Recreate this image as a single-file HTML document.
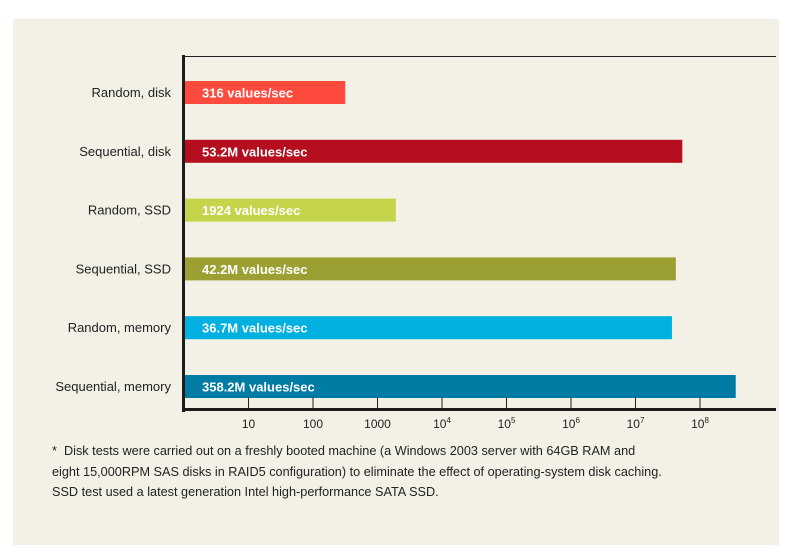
<!DOCTYPE html>
<html><head><meta charset="utf-8"><style>
body{margin:0;background:#fff;width:795px;height:557px;overflow:hidden;font-family:"Liberation Sans",sans-serif}
#panel{position:absolute;left:13px;top:19px;width:766px;height:526px;background:#f3f1e5}
.note{position:absolute;left:52px;font-size:12.7px;color:#222}
</style></head><body>
<div id="panel"></div>
<svg id="chart" width="795" height="557" style="position:absolute;left:0;top:0"></svg>
<div class="note" style="top:444px">*&nbsp; Disk tests were carried out on a freshly booted machine (a Windows 2003 server with 64GB RAM and</div>
<div class="note" style="top:465px">eight 15,000RPM SAS disks in RAID5 configuration) to eliminate the effect of operating-system disk caching.</div>
<div class="note" style="top:485px">SSD test used a latest generation Intel high-performance SATA SSD.</div>
<script>
const categories=["Random, disk","Sequential, disk","Random, SSD","Sequential, SSD","Random, memory","Sequential, memory"];
const values=[316,53.2e6,1924,42.2e6,36.7e6,358.2e6];
const valueLabels=["316 values/sec","53.2M values/sec","1924 values/sec","42.2M values/sec","36.7M values/sec","358.2M values/sec"];
const colors=["#ff4b3e","#b50e1e","#c5d44a","#9ca033","#00b0e0","#007ba3"];
const tickExps=[1,2,3,4,5,6,7,8];
const tickLabels=["10","100","1000","10<tspan dy='-5' font-size='8'>4</tspan>","10<tspan dy='-5' font-size='8'>5</tspan>","10<tspan dy='-5' font-size='8'>6</tspan>","10<tspan dy='-5' font-size='8'>7</tspan>","10<tspan dy='-5' font-size='8'>8</tspan>"];
const svg=document.getElementById('chart');
const NS="http://www.w3.org/2000/svg";
const x0=184,dec=64.5;
function xs(v){return x0+dec*Math.log10(v);}
function ys(i){return 81+i*58.8;}
function mk(t,a,p){const e=document.createElementNS(NS,t);for(const k in a)e.setAttribute(k,a[k]);(p||svg).appendChild(e);return e;}
let l=mk('line',{x1:184,y1:56.5,x2:776,y2:56.5,stroke:'#222','stroke-width':1});


categories.forEach((c,i)=>{
 const y=ys(i);
 const r=mk('rect',{x:185,y:y,width:xs(values[i])-185,height:23,fill:colors[i]});
 
 
 const t=mk('text',{x:202,y:y+16.5,fill:'#fff','font-size':13,'font-weight':'bold'});
 t.textContent=valueLabels[i];
 
 
 const lb=mk('text',{x:171,y:y+16,fill:'#222','font-size':13,'text-anchor':'end'});
 lb.textContent=c;
 
 
});
tickExps.forEach((e,i)=>{
 const x=xs(Math.pow(10,e));
 const tk=mk('line',{x1:x,y1:397,x2:x,y2:409,stroke:'#222','stroke-width':1});
 
 
 const t=mk('text',{x:x,y:428,fill:'#222','font-size':12,'text-anchor':'middle'});
 t.innerHTML=tickLabels[i];
 
 
});
const ya=mk('rect',{x:182,y:55,width:3,height:357,fill:'#1e1c1a'});


const xa=mk('rect',{x:182,y:408,width:594,height:3,fill:'#1e1c1a'});


</script>
</body></html>
